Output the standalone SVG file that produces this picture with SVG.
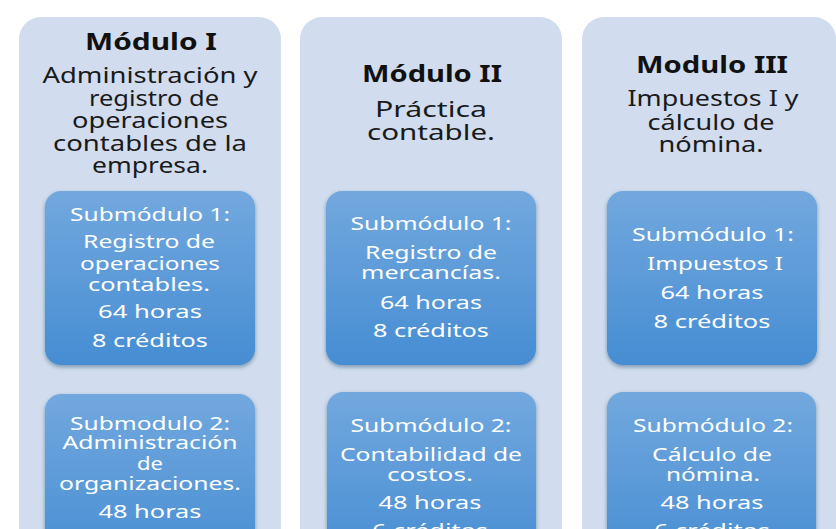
<svg xmlns="http://www.w3.org/2000/svg" width="836" height="529" viewBox="0 0 836 529">
<defs>
<linearGradient id="cardGrad" x1="0" y1="0" x2="0" y2="1">
<stop offset="0" stop-color="#72A8DE"/>
<stop offset="1" stop-color="#468DD3"/>
</linearGradient>
<filter id="shadow" x="-10%" y="-10%" width="120%" height="125%">
<feDropShadow dx="0" dy="2" stdDeviation="2" flood-color="#1F3C5E" flood-opacity="0.45"/>
</filter>
</defs>
<style>
.panel{fill:#D1DDEE;}
.card{fill:url(#cardGrad);filter:url(#shadow);}
.title{font-family:"Noto Sans","Open Sans",sans-serif;font-weight:bold;font-size:24px;fill:#111;text-anchor:middle;}
.hdr{font-family:"Noto Sans","Open Sans",sans-serif;font-size:21px;fill:#1A1A1A;text-anchor:middle;}
.ct{font-family:"Noto Sans","Open Sans",sans-serif;font-size:18px;fill:#FFFFFF;text-anchor:middle;}
</style>
<rect width="836" height="529" fill="#FFFFFF"/>

<g id="modulo1">
<rect class="panel" x="19" y="17" width="262" height="560" rx="22"/>
<text class="title" x="151" y="50" textLength="132" lengthAdjust="spacingAndGlyphs">Módulo I</text>
<text class="hdr" x="150" y="83" textLength="215" lengthAdjust="spacingAndGlyphs">Administración y</text>
<text class="hdr" x="154" y="106" textLength="130" lengthAdjust="spacingAndGlyphs">registro de</text>
<text class="hdr" x="150" y="128" textLength="156" lengthAdjust="spacingAndGlyphs">operaciones</text>
<text class="hdr" x="150" y="151" textLength="194" lengthAdjust="spacingAndGlyphs">contables de la</text>
<text class="hdr" x="150" y="173" textLength="116" lengthAdjust="spacingAndGlyphs">empresa.</text>
</g>

<g id="modulo2">
<rect class="panel" x="300" y="17" width="262" height="560" rx="22"/>
<text class="title" x="432" y="82" textLength="140" lengthAdjust="spacingAndGlyphs">Módulo II</text>
<text class="hdr" x="431" y="117" textLength="112" lengthAdjust="spacingAndGlyphs">Práctica</text>
<text class="hdr" x="431" y="140" textLength="128" lengthAdjust="spacingAndGlyphs">contable.</text>
</g>

<g id="modulo3">
<rect class="panel" x="582" y="17" width="254" height="560" rx="22"/>
<text class="title" x="712" y="73" textLength="152" lengthAdjust="spacingAndGlyphs">Modulo III</text>
<text class="hdr" x="713" y="106" textLength="171" lengthAdjust="spacingAndGlyphs">Impuestos I y</text>
<text class="hdr" x="711" y="130" textLength="127" lengthAdjust="spacingAndGlyphs">cálculo de</text>
<text class="hdr" x="711" y="152" textLength="105" lengthAdjust="spacingAndGlyphs">nómina.</text>
</g>

<g id="m1-sub1">
<rect class="card" x="45" y="191" width="210" height="174" rx="16"/>
<text class="ct" x="150" y="221" textLength="160" lengthAdjust="spacingAndGlyphs">Submódulo 1:</text>
<text class="ct" x="149" y="248" textLength="132" lengthAdjust="spacingAndGlyphs">Registro de</text>
<text class="ct" x="150" y="270" textLength="140" lengthAdjust="spacingAndGlyphs">operaciones</text>
<text class="ct" x="149" y="291" textLength="122" lengthAdjust="spacingAndGlyphs">contables.</text>
<text class="ct" x="150" y="318" textLength="104" lengthAdjust="spacingAndGlyphs">64 horas</text>
<text class="ct" x="150" y="347" textLength="116" lengthAdjust="spacingAndGlyphs">8 créditos</text>
</g>

<g id="m2-sub1">
<rect class="card" x="326" y="191" width="210" height="174" rx="16"/>
<text class="ct" x="431" y="230" textLength="161" lengthAdjust="spacingAndGlyphs">Submódulo 1:</text>
<text class="ct" x="431" y="259" textLength="132" lengthAdjust="spacingAndGlyphs">Registro de</text>
<text class="ct" x="431" y="279" textLength="140" lengthAdjust="spacingAndGlyphs">mercancías.</text>
<text class="ct" x="431" y="309" textLength="102" lengthAdjust="spacingAndGlyphs">64 horas</text>
<text class="ct" x="431" y="337" textLength="116" lengthAdjust="spacingAndGlyphs">8 créditos</text>
</g>

<g id="m3-sub1">
<rect class="card" x="607" y="191" width="210" height="174" rx="16"/>
<text class="ct" x="713" y="241" textLength="162" lengthAdjust="spacingAndGlyphs">Submódulo 1:</text>
<text class="ct" x="715" y="270" textLength="136" lengthAdjust="spacingAndGlyphs">Impuestos I</text>
<text class="ct" x="712" y="299" textLength="103" lengthAdjust="spacingAndGlyphs">64 horas</text>
<text class="ct" x="712" y="328" textLength="117" lengthAdjust="spacingAndGlyphs">8 créditos</text>
</g>

<g id="m1-sub2">
<rect class="card" x="45" y="394" width="210" height="174" rx="16"/>
<text class="ct" x="150" y="430" textLength="160" lengthAdjust="spacingAndGlyphs">Submodulo 2:</text>
<text class="ct" x="150" y="449" textLength="175" lengthAdjust="spacingAndGlyphs">Administración</text>
<text class="ct" x="150" y="470" textLength="26" lengthAdjust="spacingAndGlyphs">de</text>
<text class="ct" x="150" y="490" textLength="182" lengthAdjust="spacingAndGlyphs">organizaciones.</text>
<text class="ct" x="150" y="518" textLength="103" lengthAdjust="spacingAndGlyphs">48 horas</text>
</g>

<g id="m2-sub2">
<rect class="card" x="327" y="392" width="209" height="174" rx="16"/>
<text class="ct" x="431" y="432" textLength="161" lengthAdjust="spacingAndGlyphs">Submódulo 2:</text>
<text class="ct" x="431" y="461" textLength="182" lengthAdjust="spacingAndGlyphs">Contabilidad de</text>
<text class="ct" x="430" y="481" textLength="86" lengthAdjust="spacingAndGlyphs">costos.</text>
<text class="ct" x="430" y="509" textLength="103" lengthAdjust="spacingAndGlyphs">48 horas</text>
<text class="ct" x="430" y="537" textLength="116" lengthAdjust="spacingAndGlyphs">6 créditos</text>
</g>

<g id="m3-sub2">
<rect class="card" x="607" y="392" width="209" height="174" rx="16"/>
<text class="ct" x="713" y="432" textLength="160" lengthAdjust="spacingAndGlyphs">Submódulo 2:</text>
<text class="ct" x="712" y="461" textLength="120" lengthAdjust="spacingAndGlyphs">Cálculo de</text>
<text class="ct" x="713" y="481" textLength="94" lengthAdjust="spacingAndGlyphs">nómina.</text>
<text class="ct" x="712" y="509" textLength="103" lengthAdjust="spacingAndGlyphs">48 horas</text>
<text class="ct" x="712" y="537" textLength="116" lengthAdjust="spacingAndGlyphs">6 créditos</text>
</g>

<g id="connectors"/>
</svg>
